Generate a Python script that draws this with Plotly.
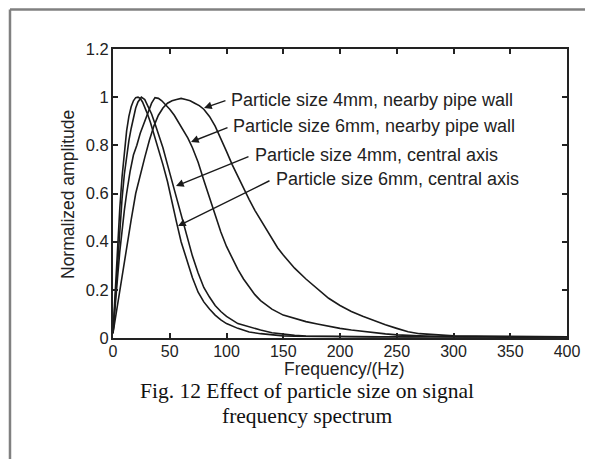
import plotly.graph_objects as go

# ---- data ----
x_c1 = [0, 2, 4, 6, 8, 10, 12, 14, 16, 18, 20, 22, 24, 26, 28, 30, 33, 36, 40, 44, 48, 52, 56, 60, 65, 70, 75, 80, 85, 90, 95, 100, 110, 120, 130, 140, 150, 160, 175, 190, 210, 230, 250, 270, 290, 310, 330, 350, 370, 390, 400]
y_c1 = [0.02, 0.2, 0.38, 0.54, 0.67, 0.78, 0.86, 0.92, 0.96, 0.985, 0.998, 1.0, 0.995, 0.98, 0.96, 0.935, 0.895, 0.85, 0.79, 0.72, 0.65, 0.56, 0.48, 0.40, 0.32, 0.25, 0.19, 0.15, 0.12, 0.095, 0.075, 0.06, 0.04, 0.025, 0.018, 0.012, 0.009, 0.007, 0.006, 0.005, 0.006, 0.004, 0.005, 0.004, 0.005, 0.004, 0.005, 0.004, 0.005, 0.004, 0.005]

x_c2 = [0, 2, 4, 6, 8, 10, 12, 14, 16, 18, 20, 22, 25, 28, 31, 34, 37, 40, 44, 48, 52, 56, 60, 65, 70, 75, 80, 85, 90, 95, 100, 110, 120, 130, 140, 150, 160, 170, 185, 200, 220, 240, 260, 280, 300, 320, 340, 360, 380, 400]
y_c2 = [0.02, 0.16, 0.31, 0.45, 0.58, 0.68, 0.76, 0.82, 0.87, 0.92, 0.955, 0.98, 1.0, 0.99, 0.96, 0.93, 0.89, 0.85, 0.79, 0.72, 0.65, 0.58, 0.51, 0.42, 0.34, 0.27, 0.21, 0.17, 0.135, 0.11, 0.09, 0.06, 0.045, 0.033, 0.022, 0.015, 0.011, 0.008, 0.007, 0.006, 0.005, 0.006, 0.004, 0.005, 0.004, 0.005, 0.004, 0.005, 0.004, 0.005]

x_c3 = [0, 2, 4, 6, 8, 10, 12, 15, 18, 21, 24, 28, 31, 34, 37, 40, 43, 46, 50, 54, 58, 62, 66, 70, 75, 80, 85, 90, 95, 100, 105, 110, 115, 120, 125, 130, 140, 150, 160, 170, 180, 190, 200, 210, 220, 230, 240, 250, 260, 270, 285, 300, 320, 340, 360, 380, 400]
y_c3 = [0.02, 0.12, 0.25, 0.36, 0.45, 0.53, 0.60, 0.69, 0.76, 0.80, 0.85, 0.90, 0.94, 0.975, 0.998, 0.995, 0.985, 0.97, 0.95, 0.925, 0.895, 0.865, 0.83, 0.79, 0.73, 0.655, 0.58, 0.51, 0.44, 0.38, 0.33, 0.285, 0.245, 0.21, 0.18, 0.155, 0.12, 0.095, 0.08, 0.068, 0.058, 0.048, 0.04, 0.033, 0.027, 0.022, 0.017, 0.013, 0.01, 0.009, 0.007, 0.006, 0.005, 0.006, 0.004, 0.005, 0.005]

x_c4 = [0, 2, 4, 6, 8, 10, 13, 16, 20, 24, 28, 32, 36, 40, 44, 48, 52, 56, 60, 64, 68, 72, 76, 80, 85, 90, 95, 100, 105, 110, 115, 120, 125, 130, 135, 140, 145, 150, 160, 170, 180, 190, 200, 210, 220, 230, 240, 250, 260, 270, 280, 290, 300, 320, 340, 360, 380, 400]
y_c4 = [0.02, 0.08, 0.15, 0.21, 0.27, 0.33, 0.41, 0.49, 0.60, 0.68, 0.75, 0.82, 0.88, 0.925, 0.955, 0.975, 0.985, 0.99, 0.995, 0.99, 0.985, 0.975, 0.965, 0.95, 0.92, 0.88, 0.83, 0.775, 0.72, 0.67, 0.62, 0.575, 0.53, 0.49, 0.45, 0.41, 0.375, 0.345, 0.29, 0.245, 0.205, 0.165, 0.135, 0.11, 0.09, 0.072, 0.055, 0.04, 0.026, 0.018, 0.014, 0.011, 0.009, 0.008, 0.007, 0.006, 0.006, 0.005]

labels = [
    "Particle size 4mm, nearby pipe wall",
    "Particle size 6mm, nearby pipe wall",
    "Particle size 4mm, central axis",
    "Particle size 6mm, central axis",
]
label_x = [102.2, 104.0, 123.3, 141.9]
label_y = [0.988, 0.880, 0.760, 0.660]
arrow_tail_x = [100.4, 102.2, 120.7, 139.2]
arrow_tail_y = [0.988, 0.876, 0.756, 0.656]
arrow_head_x = [80.2, 68.7, 55.5, 57.3]
arrow_head_y = [0.955, 0.814, 0.631, 0.465]

x_ticks = [0, 50, 100, 150, 200, 250, 300, 350, 400]
y_ticks = [0, 0.2, 0.4, 0.6, 0.8, 1.0, 1.2]
y_tick_text = ["0", "0.2", "0.4", "0.6", "0.8", "1", "1.2"]

x_title = "Frequency/(Hz)"
y_title = "Normalized amplitude"
caption_lines = ["Fig. 12 Effect of particle size on signal", "frequency spectrum"]

# ---- figure ----
fig = go.Figure()
line_style = dict(color="#1a1a1a", width=1.6)
for xs, ys in [(x_c1, y_c1), (x_c2, y_c2), (x_c3, y_c3), (x_c4, y_c4)]:
    fig.add_trace(go.Scatter(x=xs, y=ys, mode="lines", line=line_style,
                             showlegend=False, hoverinfo="skip"))

font_sans = "Liberation Sans, Arial, sans-serif"

for t, lx, ly in zip(labels, label_x, label_y):
    fig.add_annotation(x=lx, y=ly, xref="x", yref="y", text=t, showarrow=False,
                       xanchor="left", yanchor="middle",
                       font=dict(family=font_sans, size=18, color="#222"))
for tx, ty, hx, hy in zip(arrow_tail_x, arrow_tail_y, arrow_head_x, arrow_head_y):
    fig.add_annotation(x=hx, y=hy, xref="x", yref="y", ax=tx, ay=ty,
                       axref="x", ayref="y", text="", showarrow=True,
                       arrowhead=2, arrowsize=1.1, arrowwidth=1.4,
                       arrowcolor="#1a1a1a")

# axis titles (placed as annotations for exact positioning)
fig.add_annotation(x=0.509, y=-0.106, xref="paper", yref="paper", text=x_title,
                   showarrow=False, xanchor="center", yanchor="middle",
                   font=dict(family=font_sans, size=17.5, color="#222"))
fig.add_annotation(x=-0.099, y=0.495, xref="paper", yref="paper", text=y_title,
                   showarrow=False, xanchor="center", yanchor="middle",
                   textangle=-90,
                   font=dict(family=font_sans, size=17.5, color="#222"))

for line_text, cy in zip(caption_lines, [-0.184, -0.270]):
    fig.add_annotation(x=0.427, y=cy, xref="paper", yref="paper", text=line_text,
                       showarrow=False, xanchor="center", yanchor="middle",
                       font=dict(family="Liberation Serif, Times New Roman, serif",
                                 size=21.5, color="#111"))

# outer grey frame (left, top, right)
frame = dict(type="line", xref="paper", yref="paper",
             line=dict(color="#808080", width=2.5))
fig.add_shape(**frame, x0=-0.2269, x1=-0.2269, y0=1.1367, y1=-0.5)
fig.add_shape(**frame, x0=-0.2269, x1=1.0507, y0=1.1367, y1=1.1367)
fig.add_shape(**frame, x0=1.0507, x1=1.0507, y0=1.1367, y1=-0.5)

axis_common = dict(showline=True, linecolor="#222", linewidth=2, mirror="ticks",
                   ticks="inside", ticklen=5, tickwidth=1.5, tickcolor="#222",
                   showgrid=False, zeroline=False)

# page has an 8px body margin, so the figure is sized/placed to compensate
fig.update_layout(
    width=585, height=451,
    margin=dict(l=105, r=26, t=41, b=121),
    paper_bgcolor="white", plot_bgcolor="white",
    xaxis=dict(range=[0, 400], tickvals=x_ticks, ticklabelstandoff=-2,
               tickfont=dict(family=font_sans, size=16, color="#222"),
               **axis_common),
    yaxis=dict(range=[0, 1.2], tickvals=y_ticks, ticktext=y_tick_text,
               ticklabelstandoff=-1,
               tickfont=dict(family=font_sans, size=16.5, color="#222"),
               **axis_common),
)

fig.write_html("out.html")
